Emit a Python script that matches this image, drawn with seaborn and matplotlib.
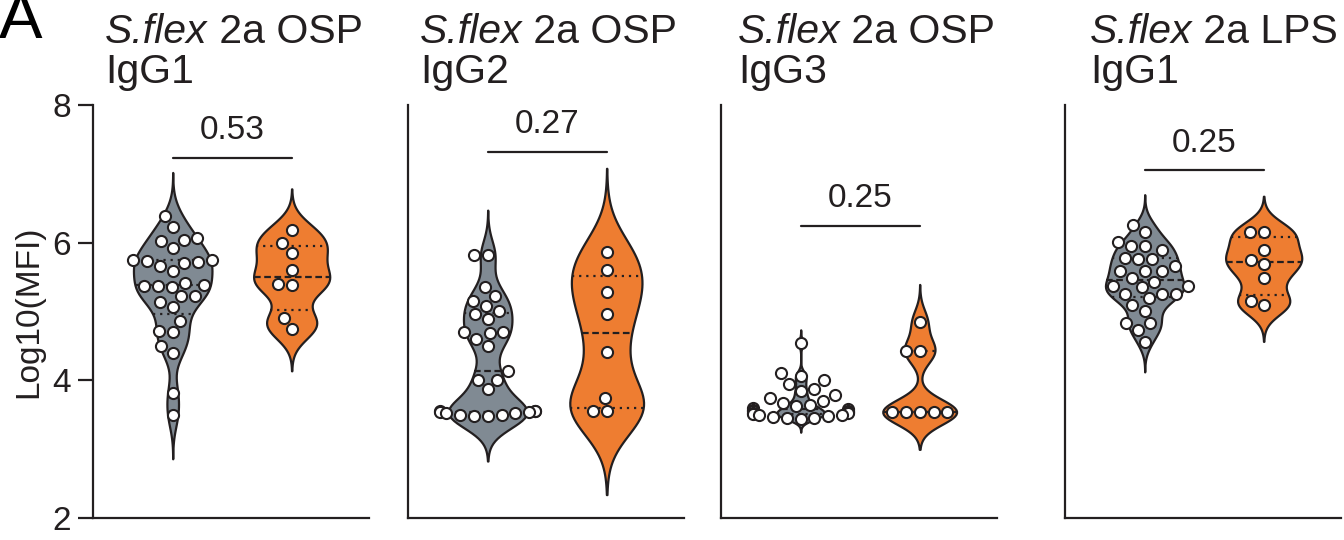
import numpy as np
import pandas as pd
import matplotlib
matplotlib.use("Agg")
import matplotlib.pyplot as plt
import seaborn as sns

# values (Log10 MFI)
groups = ["Group 1", "Group 2"]

osp_igg1_grey = [6.39, 6.23, 6.07, 6.04, 6.02, 5.92, 5.75, 5.75, 5.74, 5.72, 5.70, 5.66,
                 5.59, 5.42, 5.38, 5.37, 5.37, 5.36, 5.23, 5.22, 5.14, 5.07, 4.86, 4.71,
                 4.70, 4.50, 4.40, 3.81, 3.49]
osp_igg1_orange = [6.18, 5.99, 5.85, 5.61, 5.40, 5.38, 4.90, 4.74]

osp_igg2_grey = [5.82, 5.82, 5.35, 5.22, 5.15, 5.08, 5.01, 4.96, 4.89, 4.70, 4.70,
                 4.69, 4.60, 4.50, 4.13, 4.01, 4.00, 3.87, 3.56, 3.55, 3.55, 3.54, 3.54,
                 3.53, 3.52, 3.50, 3.49, 3.48, 3.48]
osp_igg2_orange = [5.87, 5.60, 5.29, 4.96, 4.41, 3.74, 3.55, 3.55]

osp_igg3_grey = [4.54, 4.10, 4.06, 4.01, 3.95, 3.88, 3.84, 3.79, 3.74, 3.70, 3.67, 3.64,
                 3.62, 3.60, 3.59, 3.57, 3.56, 3.55, 3.54, 3.53, 3.52, 3.51, 3.50, 3.49,
                 3.48, 3.47, 3.46, 3.45, 3.44]
osp_igg3_orange = [4.85, 4.43, 4.43, 3.54, 3.54, 3.54, 3.54, 3.54]

lps_igg1_grey = [6.26, 6.15, 6.01, 5.95, 5.95, 5.89, 5.78, 5.76, 5.76, 5.66, 5.59, 5.59,
                 5.59, 5.48, 5.43, 5.37, 5.37, 5.35, 5.26, 5.26, 5.26, 5.19, 5.10, 5.01,
                 4.83, 4.83, 4.73, 4.56]
lps_igg1_orange = [6.15, 6.15, 5.90, 5.75, 5.69, 5.48, 5.15, 5.09]

antigens = ["2a OSP", "2a OSP", "2a OSP", "2a LPS"]
isotypes = ["IgG1", "IgG2", "IgG3", "IgG1"]
p_values = ["0.53", "0.27", "0.25", "0.25"]
p_heights = [7.23, 7.32, 6.24, 7.05]

panels = [
    (osp_igg1_grey, osp_igg1_orange),
    (osp_igg2_grey, osp_igg2_orange),
    (osp_igg3_grey, osp_igg3_orange),
    (lps_igg1_grey, lps_igg1_orange),
]

sns.set_style("ticks")
plt.rcParams["font.family"] = ["Liberation Sans", "DejaVu Sans"]

ink = "#231f20"
colors = {"Group 1": "#808a93", "Group 2": "#ee7d31"}
widths = [(0.66, 0.64), (0.66, 0.62), (0.40, 0.62), (0.66, 0.64)]
bws = [(0.6, 0.6), (0.55, 0.65), (0.5, 0.5), (0.65, 0.65)]


def quartile_lines(ax, poly, pos, values):
    # Prism-style quartiles (n+1 method), drawn across the violin body
    verts = poly.get_paths()[0].vertices
    qs = np.percentile(values, [25, 50, 75], method="weibull")
    left = verts[verts[:, 0] <= pos]
    right = verts[verts[:, 0] >= pos]
    left = left[np.argsort(left[:, 1])]
    right = right[np.argsort(right[:, 1])]
    for k, q in enumerate(qs):
        xl = np.interp(q, left[:, 1], left[:, 0])
        xr = np.interp(q, right[:, 1], right[:, 0])
        dashes = (3, 1.6) if k == 1 else (1, 2.2)
        ax.plot([xl, xr], [q, q], color=ink, lw=1.6, dashes=dashes, zorder=3)


fig = plt.figure(figsize=(13.44, 5.4), dpi=100)
W, H = 1344, 540
lefts = [93, 408, 721, 1065]
title_dx = [12, 12, 17, 25]

for i, (grey, orange) in enumerate(panels):
    ax = fig.add_axes([lefts[i] / W, 22 / H, 276 / W, 413 / H])
    df = pd.DataFrame({
        "group": ["Group 1"] * len(grey) + ["Group 2"] * len(orange),
        "value": grey + orange,
    })
    for j, (g, w, bw) in enumerate(zip(groups, widths[i], bws[i])):
        sub = df[df["group"] == g]
        sns.violinplot(data=sub, x="group", y="value", order=groups,
                       color=colors[g], saturation=1, width=w, bw_adjust=bw, cut=3,
                       inner=None, linecolor=ink, linewidth=1.6, ax=ax)
        quartile_lines(ax, ax.collections[-1], j, sub["value"].values)
    sns.swarmplot(data=df, x="group", y="value", order=groups, color="white",
                  edgecolor=ink, linewidth=1.5, size=8, warn_thresh=1, zorder=4, ax=ax)

    # significance bracket
    h = p_heights[i]
    ax.plot([0, 1], [h, h], color=ink, lw=1.6)
    ax.annotate(p_values[i], xy=(0.5, h), xytext=(0, 13.5), textcoords="offset points",
                ha="center", va="baseline", fontsize=24, color=ink)

    ax.set_xlim(-0.67, 1.65)
    ax.set_ylim(2, 8)
    ax.set_xlabel("")
    ax.set_xticks([])
    sns.despine(ax=ax)
    for s in ["left", "bottom"]:
        ax.spines[s].set_linewidth(1.6)
        ax.spines[s].set_color(ink)
    if i == 0:
        ax.set_yticks([2, 4, 6, 8])
        ax.tick_params(axis="y", length=11, width=1.6, color=ink, labelsize=24,
                       pad=5, labelcolor=ink)
        ax.set_ylabel("Log10(MFI)", fontsize=24, color=ink, labelpad=6)
    else:
        ax.set_yticks([])
        ax.set_ylabel("")

    # two-line panel title, species name in italics
    t1 = ax.annotate("S.flex", xy=(0, 1), xycoords="axes fraction",
                     xytext=(title_dx[i] * 0.72, 44.6), textcoords="offset points",
                     ha="left", va="baseline", fontsize=29.5, style="italic", color=ink)
    ax.annotate(" " + antigens[i], xy=(1, 0), xycoords=t1,
                ha="left", va="bottom", fontsize=29.5, color=ink)
    ax.annotate(isotypes[i], xy=(0, 1), xycoords="axes fraction",
                xytext=(title_dx[i] * 0.72, 15.8), textcoords="offset points",
                ha="left", va="baseline", fontsize=29.5, color=ink)

fig.text(-0.001, 1 - 38 / H, "A", fontsize=47, ha="left", va="baseline", color="black")

fig.savefig("out.png", dpi=100)
